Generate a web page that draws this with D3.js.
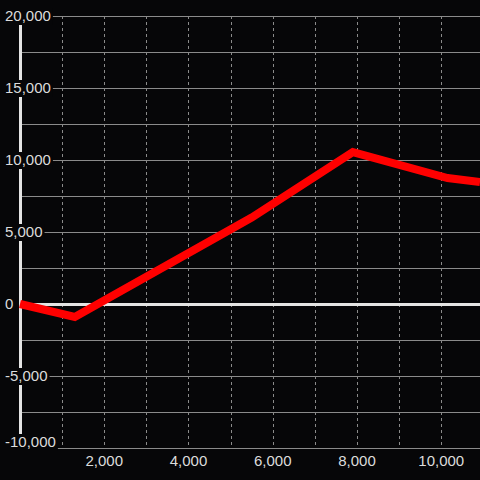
<!DOCTYPE html>
<html>
<head>
<meta charset="utf-8">
<script src="https://cdn.jsdelivr.net/npm/d3@7"></script>
<style>
  html, body { margin: 0; padding: 0; background: #060608; }
  svg { display: block; }
</style>
</head>
<body>
<div class="chart"></div>
<script>
var svgWidth = 480;
var svgHeight = 480;

// data
var xValues = [0, 1300, 5500, 7900, 10150, 10920];
var yValues = [0, -900, 6000, 10550, 8750, 8470];

var xTicks = [2000, 4000, 6000, 8000, 10000];
var xGrid = [1000, 2000, 3000, 4000, 5000, 6000, 7000, 8000, 9000, 10000];
var yTicks = [20000, 15000, 10000, 5000, 0, -5000, -10000];
var yGrid = [20000, 17500, 15000, 12500, 10000, 7500, 5000, 2500, 0, -2500, -5000, -7500, -10000];

var plot = { left: 20, right: 480, top: 16, bottom: 448 };

var svg = d3.select(".chart")
  .append("svg")
  .attr("width", svgWidth)
  .attr("height", svgHeight)
  .style("background", "#060608");

var x = d3.scaleLinear().domain([0, 10920]).range([plot.left, plot.right]);
var y = d3.scaleLinear().domain([-10000, 20000]).range([plot.bottom, plot.top]);

var fmt = d3.format(",");

// vertical dashed grid
svg.append("g").selectAll("line")
  .data(xGrid)
  .enter()
  .append("line")
  .attr("x1", d => Math.round(x(d)) + 0.5)
  .attr("x2", d => Math.round(x(d)) + 0.5)
  .attr("y1", plot.top)
  .attr("y2", plot.bottom - 2)
  .attr("stroke", "#8a8a8a")
  .attr("stroke-width", 1)
  .attr("stroke-dasharray", "3,3");

// horizontal grid
svg.append("g").selectAll("line")
  .data(yGrid.filter(d => d !== 0))
  .enter()
  .append("line")
  .attr("x1", plot.left)
  .attr("x2", plot.right)
  .attr("y1", d => Math.round(y(d)) + 0.5)
  .attr("y2", d => Math.round(y(d)) + 0.5)
  .attr("stroke", "#8a8a8a")
  .attr("stroke-width", 1);

// zero line
svg.append("line")
  .attr("x1", plot.left)
  .attr("x2", plot.right)
  .attr("y1", y(0) + 0.5)
  .attr("y2", y(0) + 0.5)
  .attr("stroke", "#e4e4e4")
  .attr("stroke-width", 3);

// y axis line
svg.append("line")
  .attr("x1", plot.left + 0.5)
  .attr("x2", plot.left + 0.5)
  .attr("y1", plot.top)
  .attr("y2", plot.bottom)
  .attr("stroke", "#e4e4e4")
  .attr("stroke-width", 3);

// the series
var line = d3.line()
  .x((d, i) => x(xValues[i]))
  .y(d => y(d));

svg.append("path")
  .datum(yValues)
  .attr("d", line)
  .attr("fill", "none")
  .attr("stroke", "#ff0000")
  .attr("stroke-width", 8)
  .attr("stroke-linejoin", "miter");

// y labels with dark backing boxes (bottom one kept inside the plot)
var labelY = d => Math.min(y(d), plot.bottom - 6);

var yLab = svg.append("g").selectAll("g")
  .data(yTicks)
  .enter()
  .append("g");

yLab.append("text")
  .attr("x", 5)
  .attr("y", labelY)
  .attr("dy", "0.36em")
  .attr("fill", "#dcdcdc")
  .attr("font-family", "Liberation Sans, Arial, sans-serif")
  .attr("font-size", "15px")
  .text(d => fmt(d).replace("−", "-"));

yLab.each(function(d) {
  var g = d3.select(this);
  var b = g.select("text").node().getBBox();
  g.insert("rect", "text")
    .attr("x", b.x - 2)
    .attr("y", labelY(d) - 8)
    .attr("width", b.width + 4)
    .attr("height", 17)
    .attr("fill", "#060608");
});

// x labels
svg.append("g").selectAll("text")
  .data(xTicks)
  .enter()
  .append("text")
  .attr("x", d => x(d))
  .attr("y", 466)
  .attr("text-anchor", "middle")
  .attr("fill", "#dcdcdc")
  .attr("font-family", "Liberation Sans, Arial, sans-serif")
  .attr("font-size", "15px")
  .text(d => fmt(d));
</script>
</body>
</html>
